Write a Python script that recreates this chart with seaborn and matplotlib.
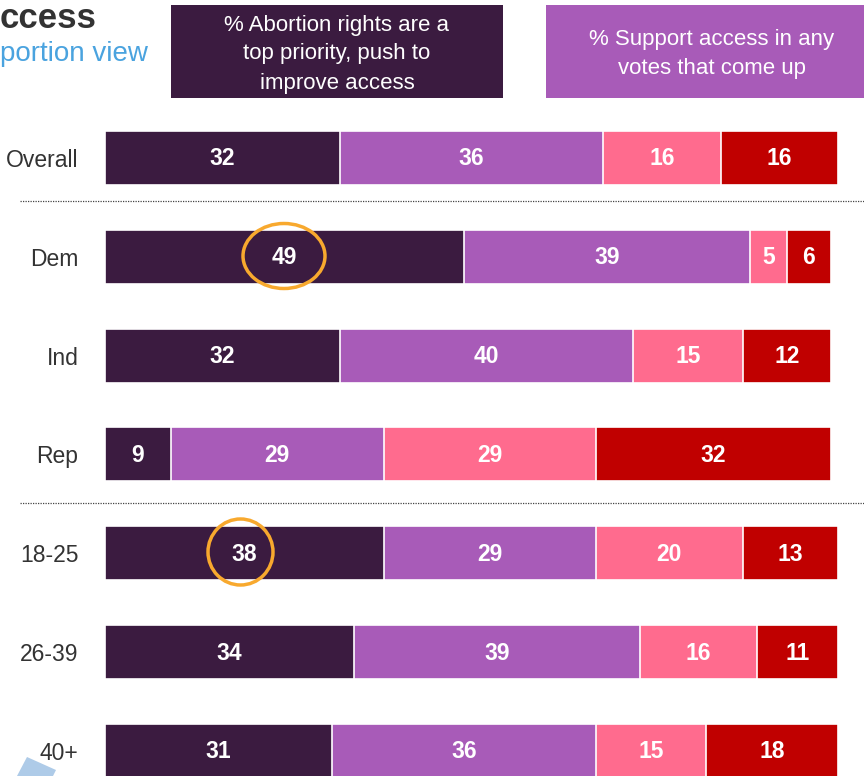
import matplotlib
matplotlib.use("Agg")
import matplotlib.pyplot as plt
from matplotlib.patches import Ellipse, Rectangle, Polygon
import seaborn as sns
import pandas as pd
import numpy as np

sns.set_theme(style="white")
plt.rcParams['font.family'] = ['Liberation Sans', 'DejaVu Sans']

# ---- data ----
groups = ["Overall", "Dem", "Ind", "Rep", "18-25", "26-39", "40+"]
top_priority = [32, 49, 32, 9, 38, 34, 31]
support_votes = [36, 39, 40, 29, 29, 39, 36]
third_seg = [16, 5, 15, 29, 20, 16, 15]
fourth_seg = [16, 6, 12, 32, 13, 11, 18]
legend_1 = "% Abortion rights are a\ntop priority, push to\nimprove access"
legend_2 = "% Support access in any\nvotes that come up"
colors = ["#3B1B40", "#A85BB8", "#FF6B8E", "#C00000"]

series = [top_priority, support_votes, third_seg, fourth_seg]
cum = np.cumsum(np.array(series), axis=0)

W, H = 864, 776
fig = plt.figure(figsize=(W / 100, H / 100), dpi=100)
fig.patch.set_facecolor("white")

# bar axes: x 0..100 maps to px 105..838; category centres at y px 158 + 98.83*i
x0, x1 = 105, 838
spacing = 98.83
ytop_px, ybot_px = 100, 776
ax = fig.add_axes([x0 / W, 1 - ybot_px / H, (x1 - x0) / W, (ybot_px - ytop_px) / H])

for k in range(3, -1, -1):
    df = pd.DataFrame({"group": groups, "cum": cum[k]})
    sns.barplot(data=df, x="cum", y="group", order=groups, color=colors[k],
                orient="h", width=54 / spacing, edgecolor="white", linewidth=1.2,
                saturation=1, ax=ax)

ax.set_xlim(0, 100)
ax.set_ylim((ybot_px - 158) / spacing, (ytop_px - 158) / spacing)
ax.set_xlabel("")
ax.set_ylabel("")
ax.set_xticks([])
for s in ax.spines.values():
    s.set_visible(False)
ax.tick_params(axis="y", length=0, pad=19, labelsize=16.5, labelcolor="#333333")
ax.patch.set_alpha(0)

for k in range(4):
    for i, v in enumerate(series[k]):
        cx = cum[k][i] - v / 2
        ax.text(cx, i + 0.01, str(v), ha="center", va="center", color="white",
                fontsize=16.5, fontweight="bold")

# overlay axes in pixel coordinates for annotations
ov = fig.add_axes([0, 0, 1, 1], zorder=5)
ov.set_xlim(0, W)
ov.set_ylim(H, 0)
ov.axis("off")
ov.patch.set_alpha(0)

# title fragments
ov.text(0, 28, "ccess", fontsize=25, fontweight="bold", color="#333333",
        ha="left", va="baseline")
ov.text(0, 61, "portion view", fontsize=20, color="#4AA3DF", ha="left", va="baseline")

# legend boxes
ov.add_patch(Rectangle((171, 5), 332, 93, facecolor=colors[0], edgecolor="none"))
ov.text(337, 54, legend_1, ha="center", va="center", color="white",
        fontsize=16, linespacing=1.5)
ov.add_patch(Rectangle((546, 5), 330, 93, facecolor=colors[1], edgecolor="none"))
ov.text(712, 54, legend_2, ha="center", va="center", color="white",
        fontsize=16, linespacing=1.5)

# dotted separators
for yy in (201, 503):
    ov.plot([20, W], [yy, yy], color="#444444", lw=0.9, ls=(0, (1, 1)))

# highlight circles
ov.add_patch(Ellipse((284, 256), 82, 65, fill=False, edgecolor="#F8A92E", lw=2.5))
ov.add_patch(Ellipse((240.5, 552), 65, 66, fill=False, edgecolor="#F8A92E", lw=2.5))

# decorative shape bottom-left
ov.add_patch(Polygon([(27, 757), (56, 770), (53, 776), (17, 776)], closed=True,
                     facecolor="#AECBE8", edgecolor="none"))

fig.savefig("out.png", dpi=100, facecolor="white")
